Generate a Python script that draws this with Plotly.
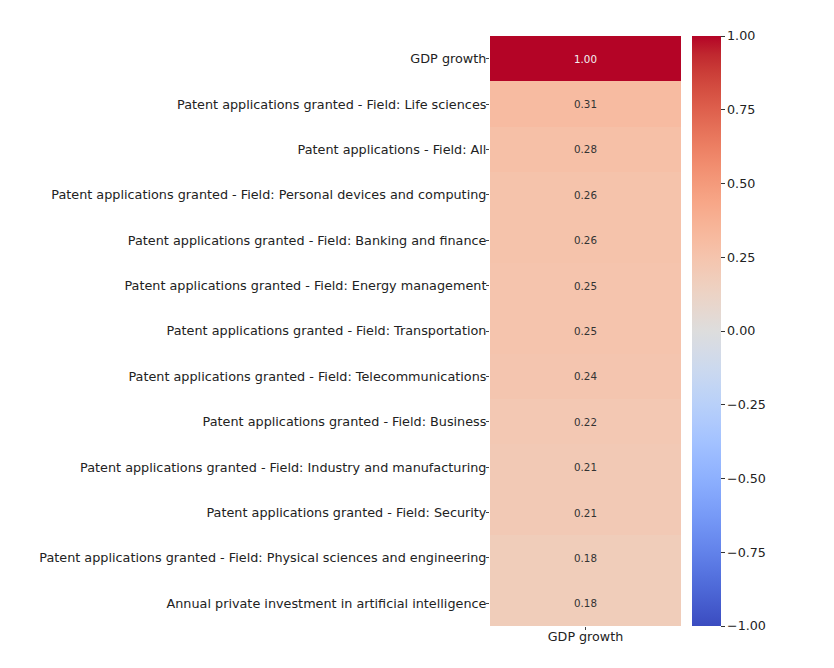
import plotly.graph_objects as go

labels = [
    'GDP growth',
    'Patent applications granted - Field: Life sciences',
    'Patent applications - Field: All',
    'Patent applications granted - Field: Personal devices and computing',
    'Patent applications granted - Field: Banking and finance',
    'Patent applications granted - Field: Energy management',
    'Patent applications granted - Field: Transportation',
    'Patent applications granted - Field: Telecommunications',
    'Patent applications granted - Field: Business',
    'Patent applications granted - Field: Industry and manufacturing',
    'Patent applications granted - Field: Security',
    'Patent applications granted - Field: Physical sciences and engineering',
    'Annual private investment in artificial intelligence',
]
corr = [1.00, 0.31, 0.28, 0.26, 0.26, 0.25, 0.25, 0.24, 0.22, 0.21, 0.21, 0.18, 0.18]
column = ['GDP growth']
cbar_ticks = [-1.0, -0.75, -0.5, -0.25, 0.0, 0.25, 0.5, 0.75, 1.0]

# matplotlib-style coolwarm (Moreland table)
cw = [(59, 76, 192), (68, 90, 204), (77, 104, 215), (87, 117, 225), (98, 130, 234),
      (108, 142, 241), (119, 154, 247), (130, 165, 251), (141, 176, 254), (152, 185, 255),
      (163, 194, 255), (174, 201, 253), (184, 208, 249), (194, 213, 244), (204, 217, 238),
      (213, 219, 230), (221, 221, 221), (229, 216, 209), (236, 211, 197), (241, 204, 185),
      (245, 196, 173), (247, 187, 160), (247, 177, 148), (247, 166, 135), (244, 154, 123),
      (241, 141, 111), (236, 127, 99), (229, 112, 88), (222, 96, 77), (213, 80, 66),
      (203, 62, 56), (192, 40, 47), (180, 4, 38)]
coolwarm = [[i / (len(cw) - 1), 'rgb(%d,%d,%d)' % c] for i, c in enumerate(cw)]

font = 'DejaVu Sans'

fig = go.Figure(go.Heatmap(
    z=[[v] for v in corr], x=column, y=labels,
    colorscale=coolwarm, zmin=-1, zmax=1,
    colorbar=dict(thickness=29, len=1, lenmode='fraction', y=0.5, yanchor='middle',
                  x=1.0576, xanchor='left', xpad=0, ypad=0, outlinewidth=0,
                  tickvals=cbar_ticks, ticktext=['%.2f' % t if t >= 0 else '\u2212%.2f' % -t for t in cbar_ticks],
                  ticks='outside', ticklen=4, tickcolor='#333',
                  tickfont=dict(family=font, size=12.7, color='#222')),
))

for lab, v in zip(labels, corr):
    fig.add_annotation(x=column[0], y=lab, text='%.2f' % v, showarrow=False,
                       font=dict(family=font, size=10.3, color='#f2f2f2' if v > 0.6 else '#333'))

fig.update_yaxes(autorange='reversed', ticks='outside', ticklen=3, tickcolor='#444',
                 ticklabelstandoff=-3,
                 tickfont=dict(family=font, size=12.8, color='#222'), showgrid=False)
fig.update_xaxes(ticks='outside', ticklen=3, tickcolor='#444',
                 ticklabelstandoff=-4,
                 tickfont=dict(family=font, size=12.7, color='#222'), showgrid=False)

fig.update_layout(
    width=826, height=660,
    margin=dict(l=482, r=153, t=28, b=42),
    plot_bgcolor='white', paper_bgcolor='white',
)

fig.write_html('out.html')
